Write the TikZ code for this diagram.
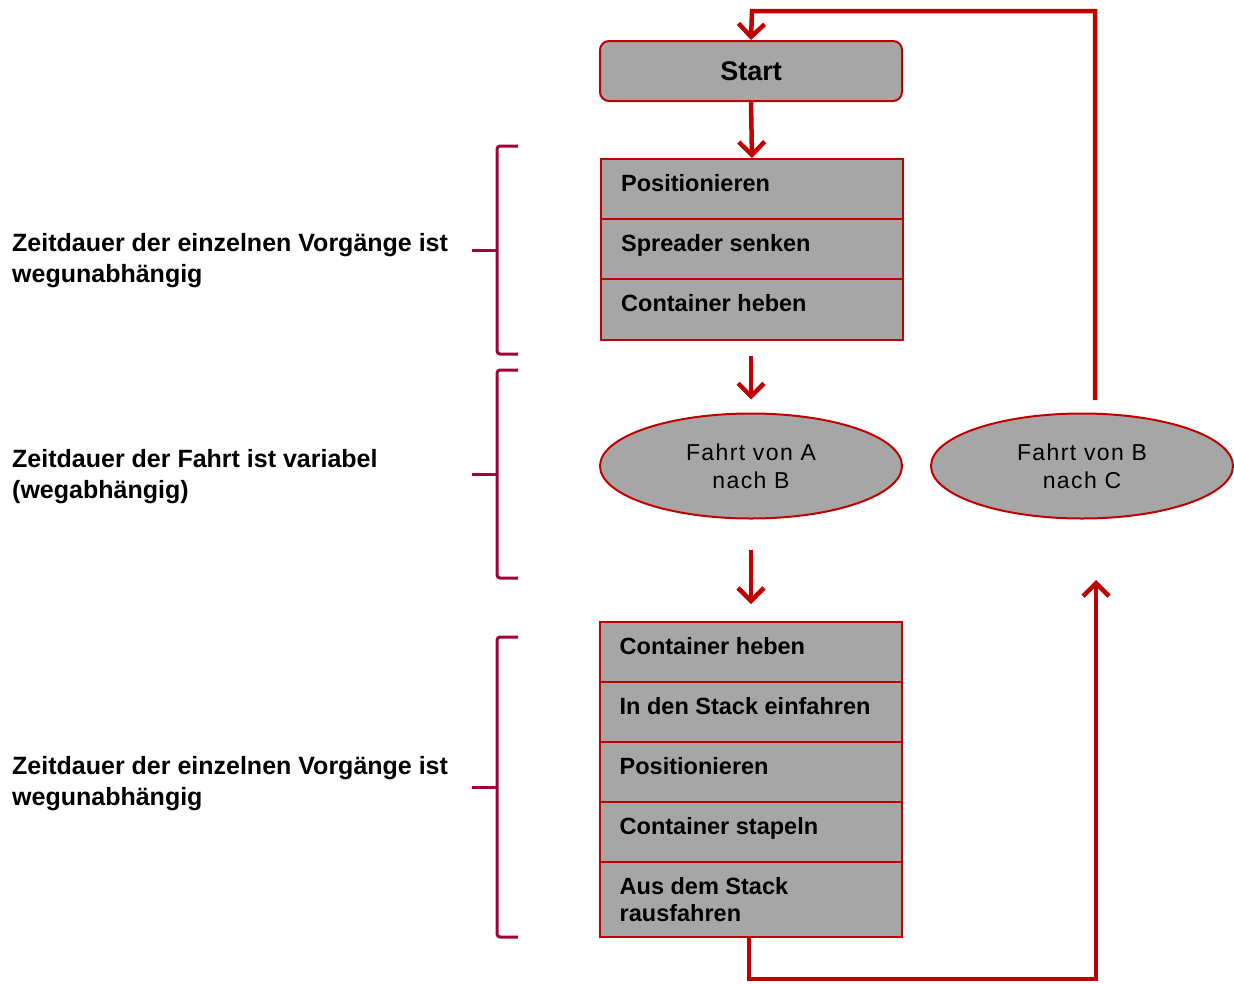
\documentclass[tikz,border=0pt]{standalone}
\usepackage{fontspec}
\setmainfont{Liberation Sans}
\usetikzlibrary{shapes.geometric,arrows.meta}
\definecolor{cred}{HTML}{C00000}
\definecolor{cgray}{HTML}{A6A6A6}
\definecolor{cbrace}{HTML}{A3003A}
\tikzset{
  rowbox/.style={draw=cred, line width=2pt, fill=cgray, minimum width=302pt, inner sep=0pt},
  rowtext/.style={anchor=north west, inner sep=0pt, align=left, xshift=21pt, yshift=-16pt,
    font=\fontsize{23.5}{27}\selectfont\bfseries},
  ell/.style={ellipse, draw=cred, line width=2pt, fill=cgray, minimum width=302pt, minimum height=105pt, inner sep=0pt, align=center,
    font=\fontsize{23}{28}\selectfont\addfontfeatures{LetterSpace=6}},
  arr/.style={draw=cred, line width=4.5pt, -{Straight Barb[length=13pt,width=26pt]}},
  brace/.style={draw=cbrace, line width=3pt, rounded corners=3pt},
  lefttext/.style={anchor=west, align=left, inner sep=0pt, font=\fontsize{25}{31}\selectfont\bfseries}
}
\begin{document}
\begin{tikzpicture}[x=1pt,y=-1pt]
\useasboundingbox (0,0) rectangle (1234,983);
% Start
\node[draw=cred, line width=2pt, fill=cgray, rounded corners=9pt, minimum width=302pt, minimum height=60pt,
  font=\fontsize{27}{30}\selectfont\bfseries] (start) at (751,71) {Start};
% group 1
\node[rowbox, minimum height=60pt] (a1) at (752,189) {};
\node[rowbox, minimum height=60pt] (a2) at (752,249) {};
\node[rowbox, minimum height=61pt] (a3) at (752,309.5) {};
\node[rowtext] at (a1.north west) {Positionieren};
\node[rowtext] at (a2.north west) {Spreader senken};
\node[rowtext] at (a3.north west) {Container heben};
% ellipses
\node[ell] (e1) at (751,466) {Fahrt von A\\nach B};
\node[ell] (e2) at (1082,466) {Fahrt von B\\nach C};
% group 2
\node[rowbox, minimum height=60pt] (b1) at (750.5,652) {};
\node[rowbox, minimum height=60pt] (b2) at (750.5,712) {};
\node[rowbox, minimum height=60pt] (b3) at (750.5,772) {};
\node[rowbox, minimum height=60pt] (b4) at (750.5,832) {};
\node[rowbox, minimum height=75pt] (b5) at (750.5,899.5) {};
\node[rowtext] at (b1.north west) {Container heben};
\node[rowtext] at (b2.north west) {In den Stack einfahren};
\node[rowtext] at (b3.north west) {Positionieren};
\node[rowtext] at (b4.north west) {Container stapeln};
\node[rowtext] at (b5.north west) {Aus dem Stack\\rausfahren};
% left texts
\node[lefttext] (t1) at (12,261) {Zeitdauer der einzelnen Vorgänge ist\\wegunabhängig};
\node[lefttext] (t2) at (12,477) {Zeitdauer der Fahrt ist variabel\\(wegabhängig)};
\node[lefttext] (t3) at (12,784) {Zeitdauer der einzelnen Vorgänge ist\\wegunabhängig};
% braces
\draw[brace] (518,146) -- (497,146) -- (497,354) -- (518,354);
\draw[brace] (472,250) -- (497,250);
\draw[brace] (518,370) -- (497,370) -- (497,578) -- (518,578);
\draw[brace] (472,474) -- (497,474);
\draw[brace] (518,637) -- (497,637) -- (497,937) -- (518,937);
\draw[brace] (472,787) -- (497,787);
% connectors
\coordinate (topstart) at (1095,400);
\coordinate (upend) at (1096,580);
\draw[arr] (start.south) -- (a1.north);
\draw[arr, shorten <=15pt, shorten >=13pt] (a3.south -| e1.north) -- (e1.north);
\draw[arr, shorten <=30pt, shorten >=17pt] (e1.south) -- (e1.south |- b1.north);
\draw[arr] (topstart) |- (752,11) -- (start.north);
\draw[arr] (b5.south -| 749,0) -- (749,979) -| (upend);
\end{tikzpicture}
\end{document}
